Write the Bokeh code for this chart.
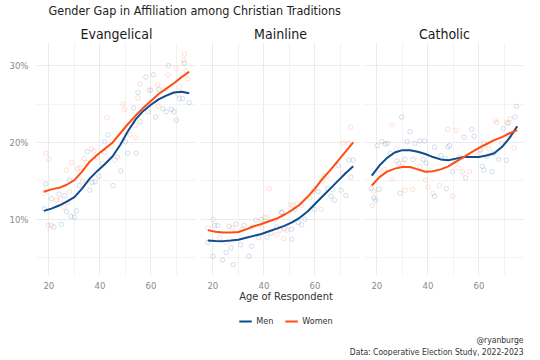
from bokeh.plotting import figure
from bokeh.layouts import column, row
from bokeh.models import Range1d, FixedTicker, PrintfTickFormatter, Title, Legend, LegendItem
from bokeh.embed import file_html
from bokeh.resources import INLINE

FONT = "'DejaVu Sans Condensed', Roboto, sans-serif"
MEN_COLOR = "#0E4C8E"
WOMEN_COLOR = "#FF4D14"

TITLE = "Gender Gap in Affiliation among Christian Traditions"
X_LABEL = "Age of Respondent"
PANELS = ["Evangelical", "Mainline", "Catholic"]
X_TICKS = [20, 40, 60]
X_MINOR = [30, 50, 70]
Y_TICKS = [10, 20, 30]
Y_MINOR = [5, 15, 25]

# smoothed trend lines (percent)
LINE_AGES = [18, 21, 24, 27, 30, 33, 36, 39, 42, 45, 48, 51, 54, 57, 60, 63, 66, 69, 72, 75]
ev_men_line = [11.1, 11.4, 11.8, 12.3, 12.9, 14.0, 15.3, 16.3, 17.2, 18.2, 19.7, 21.5, 23.0, 24.1, 24.9, 25.6, 26.1, 26.5, 26.6, 26.4]
ev_women_line = [13.6, 13.9, 14.1, 14.5, 15.1, 16.2, 17.5, 18.4, 19.2, 20.0, 21.2, 22.4, 23.5, 24.5, 25.4, 26.3, 27.0, 27.7, 28.5, 29.2]
ml_men_line = [7.25, 7.2, 7.17, 7.25, 7.35, 7.6, 7.85, 8.1, 8.45, 8.8, 9.15, 9.6, 10.2, 11.0, 12.0, 13.0, 14.0, 15.0, 16.0, 16.9]
ml_women_line = [8.6, 8.4, 8.3, 8.3, 8.35, 8.7, 9.1, 9.4, 9.75, 10.1, 10.6, 11.2, 11.9, 12.9, 14.0, 15.3, 16.4, 17.6, 18.8, 20.0]
ca_men_line = [15.7, 17.0, 18.0, 18.7, 19.0, 19.0, 18.8, 18.5, 18.1, 17.8, 17.7, 17.9, 18.1, 18.1, 18.1, 18.3, 18.6, 19.4, 20.6, 22.1]
ca_women_line = [14.4, 15.5, 16.2, 16.6, 16.8, 16.8, 16.5, 16.2, 16.25, 16.5, 16.9, 17.5, 18.1, 18.7, 19.3, 19.8, 20.3, 20.7, 21.2, 21.6]

# raw points (age, percent)
ev_women_age = [18.8, 20, 18.2, 23, 24.6, 25.9, 28.1, 26.8, 29, 31.3, 32.2, 33.8, 34.9, 36.7, 37.7, 39, 40.9, 41.8, 42.8, 44.5, 45.8, 33.2, 19.7, 21, 27.4,
                73.1, 72.8, 69.9, 66.7, 73.7, 71.2, 62.6, 55.8, 54.9, 49, 49.7, 53.8, 51.9, 54.1, 62.8, 65.4, 74.3, 70.5, 59.2]
ev_women_pct = [18.6, 17.8, 13.4, 12.5, 12.6, 11.6, 13.6, 16.4, 17.4, 16.6, 16.7, 17.9, 17.4, 19.2, 18.9, 18.1, 17.3, 18.7, 23.2, 19.6, 17.7, 15.0, 9.2, 9.2, 12.2,
                31.5, 30.7, 29.6, 28.8, 29.3, 27.2, 27.5, 27.6, 25.8, 25.0, 24.3, 22.2, 21.0, 20.6, 24.7, 27.0, 28.3, 26.3, 26.8]
ev_men_age = [18.8, 18.2, 21, 22, 24, 26.2, 26.9, 24.9, 28.7, 30, 30.8, 28.1, 31.9, 35.1, 36, 37, 38.1, 39.6, 41.8, 43.1, 45.1,
              73.1, 66.9, 60.9, 58, 59.9, 63.1, 54.9, 53.2, 59, 61.8, 64.7, 66, 68, 69, 69.9, 71.2, 72.4, 75, 55.8, 50, 50.9, 54.1, 48.1, 46.8]
ev_men_pct = [14.6, 11.4, 12.7, 9.0, 13.3, 13.1, 11.0, 9.35, 10.4, 10.3, 11.1, 15.1, 14.4, 18.8, 13.8, 14.8, 14.9, 15.6, 20.1, 21.0, 14.4,
              30.3, 30.0, 28.8, 28.5, 26.8, 26.9, 26.5, 24.5, 24.0, 23.3, 24.4, 24.0, 24.3, 24.0, 22.9, 25.7, 25.7, 25.2, 22.7, 20.1, 18.6, 18.6, 16.3, 18.1]

ml_women_age = [20, 18.1, 42.1, 22.6, 25.2, 27.7, 31.5, 35.4, 39.2, 40.3, 41.2, 44.4, 45, 46.3,
                74, 71, 73.1, 70.8, 63.7, 62.8, 59.9, 59, 58, 53.1, 50.3, 51.3, 54.8, 62.5, 47.7, 49, 64.6]
ml_women_pct = [10.0, 8.9, 14.0, 7.6, 7.0, 8.9, 8.7, 9.0, 8.9, 10.3, 10.2, 10.0, 8.0, 8.6,
                22.0, 19.9, 19.9, 16.0, 15.7, 15.0, 13.9, 13.6, 12.8, 12.1, 11.9, 11.8, 11.8, 11.3, 7.5, 8.6, 15.6]
ml_men_age = [18.1, 20, 20.7, 21.9, 23.8, 25.2, 27.1, 26.4, 28, 29, 30.9, 32.2, 34.1, 35.2, 36.9, 39, 38, 41.2, 42.8, 45, 46.9,
              74.9, 73.3, 74, 69.2, 70.2, 72.1, 66.9, 65, 66.3, 67.6, 61.2, 59.9, 52.2, 56, 54.8, 53.5, 50.9, 47.1, 48, 50.9]
ml_men_pct = [7.0, 5.2, 9.2, 9.2, 4.7, 5.7, 6.3, 9.1, 4.1, 9.4, 6.7, 9.2, 5.2, 6.5, 9.9, 10.0, 7.6, 7.7, 8.2, 9.0, 10.9,
              17.7, 17.7, 15.5, 17.0, 13.8, 13.1, 13.9, 14.0, 13.0, 12.5, 13.6, 11.3, 11.3, 10.0, 9.3, 9.6, 8.7, 10.9, 8.8, 7.4]

ca_men_age = [29.7, 33, 20.1, 22, 23.3, 24.2, 25.3, 27.8, 31, 31.9, 34.9, 36.8, 38.7, 34.2, 38.1, 39.3, 42.6, 45.1, 46.8, 17.8, 18.8, 19.5, 20.8, 29.1, 42.6,
              74.7, 74.1, 71.5, 69.6, 71.5, 58.1, 57.1, 54.2, 48.5, 47.8, 60.7, 63.2, 65.8, 67.7, 70.7, 52.3, 51, 49.7, 54.8, 61.3, 61.9, 65.1, 47.2]
ca_men_pct = [23.3, 21.4, 19.6, 20.1, 19.8, 19.9, 18.6, 17.6, 17.8, 20.1, 19.9, 20.2, 20.2, 17.8, 17.8, 17.3, 19.4, 18.3, 17.9, 14.0, 12.8, 12.5, 13.9, 13.4, 13.0,
              24.7, 23.3, 22.5, 21.8, 21.0, 20.8, 21.7, 20.7, 19.6, 19.4, 19.0, 18.2, 18.6, 17.8, 17.7, 18.1, 17.5, 16.2, 15.4, 16.9, 16.4, 16.2, 14.0]
ca_women_age = [25.9, 18.2, 18.8, 20.8, 23, 25.9, 28.5, 30.1, 31, 34, 36.8, 39.1, 40, 41.9, 44.5, 27.6,
                47.8, 51, 66.4, 67, 70.9, 72.2, 60, 61.9, 69, 73.7, 51.7, 53.6, 56.2, 49.7, 59.3, 63.8]
ca_women_pct = [22.3, 11.8, 13.7, 16.5, 16.5, 15.2, 17.3, 17.3, 13.8, 13.9, 16.9, 15.1, 14.2, 13.4, 14.4, 19.2,
                21.7, 21.6, 22.9, 22.6, 22.6, 23.1, 19.0, 19.9, 19.9, 19.3, 16.7, 16.2, 16.2, 13.0, 18.3, 19.2]

panel_data = [
    (ev_men_age, ev_men_pct, ev_women_age, ev_women_pct, ev_men_line, ev_women_line),
    (ml_men_age, ml_men_pct, ml_women_age, ml_women_pct, ml_men_line, ml_women_line),
    (ca_men_age, ca_men_pct, ca_women_age, ca_women_pct, ca_men_line, ca_women_line),
]

yr = Range1d(2.7, 33.0)
borders = [(36, 2), (2, 2), (2, 0)]
figs = []
for i, name in enumerate(PANELS):
    ma, mp, wa, wp, ml, wl = panel_data[i]
    p = figure(frame_width=160, frame_height=233, x_range=Range1d(15.15, 77.85), y_range=yr,
               toolbar_location=None, output_backend="svg",
               min_border_left=borders[i][0], min_border_right=borders[i][1],
               min_border_top=18, min_border_bottom=10)
    p.add_layout(Title(text=name, align="center", text_font=FONT, text_font_size="14px",
                       text_font_style="normal", text_color="#1a1a1a", standoff=1), "above")
    p.scatter(ma, mp, marker="circle", size=4.5, fill_color=None, line_color=MEN_COLOR, line_alpha=0.22, line_width=0.8)
    p.scatter(wa, wp, marker="circle", size=4.5, fill_color=None, line_color=WOMEN_COLOR, line_alpha=0.22, line_width=0.8)
    p.line(LINE_AGES, ml, line_color=MEN_COLOR, line_width=2.0)
    p.line(LINE_AGES, wl, line_color=WOMEN_COLOR, line_width=2.0)
    p.xaxis.ticker = FixedTicker(ticks=X_TICKS, minor_ticks=X_MINOR)
    p.yaxis.ticker = FixedTicker(ticks=Y_TICKS, minor_ticks=Y_MINOR)
    p.yaxis.formatter = PrintfTickFormatter(format="%d%%")
    p.axis.axis_line_color = None
    p.axis.major_tick_line_color = None
    p.axis.minor_tick_line_color = None
    p.axis.major_label_text_color = "#8a8a8a"
    p.axis.major_label_text_font = FONT
    p.axis.major_label_text_font_size = "9.5px"
    p.axis.major_label_standoff = 0
    p.yaxis.major_label_standoff = 2
    p.grid.grid_line_color = "#ebebeb"
    p.grid.minor_grid_line_color = "#f3f3f3"
    p.outline_line_color = None
    if i > 0:
        p.yaxis.visible = False
    figs.append(p)

head = figure(width=524, height=23, toolbar_location=None, output_backend="svg",
              min_border_left=36, min_border_right=0, min_border_top=0, min_border_bottom=0)
head.add_layout(Title(text=TITLE, align="left", text_font=FONT, text_font_size="12.5px",
                      text_font_style="normal", text_color="#222222", standoff=0), "above")
head.axis.visible = False
head.grid.visible = False
head.outline_line_color = None

# footer: x-axis title, legend, caption; legend keys use real line renderers outside the footer's visible range
foot = figure(width=524, height=65, toolbar_location=None, output_backend="svg",
              x_range=Range1d(0, 1), y_range=Range1d(0, 1),
              min_border_left=48, min_border_right=1, min_border_top=0, min_border_bottom=0)
foot.add_layout(Title(text=X_LABEL, align="center", text_font=FONT, text_font_size="11px",
                      text_font_style="normal", text_color="#333333", standoff=-7), "above")
r_m = foot.line(LINE_AGES, ev_men_line, line_color=MEN_COLOR, line_width=2.0)
r_w = foot.line(LINE_AGES, ev_women_line, line_color=WOMEN_COLOR, line_width=2.0)
leg = Legend(items=[LegendItem(label="Men", renderers=[r_m]), LegendItem(label="Women", renderers=[r_w])],
             orientation="horizontal", location="bottom_center", margin=6, padding=0, spacing=8,
             glyph_width=13, glyph_height=10, label_standoff=5, label_height=10,
             label_text_font=FONT, label_text_font_size="9px", label_text_color="#333333",
             background_fill_alpha=0, border_line_color=None)
foot.add_layout(leg)
foot.add_layout(Title(text="@ryanburge", align="right", text_font=FONT, text_font_size="8.5px",
                      text_font_style="normal", text_color="#333333", standoff=0), "below")
foot.add_layout(Title(text="Data: Cooperative Election Study, 2022-2023", align="right", text_font=FONT,
                      text_font_size="8.5px", text_font_style="normal", text_color="#333333", standoff=0), "below")
foot.axis.visible = False
foot.grid.visible = False
foot.outline_line_color = None

layout = column(head, row(*figs), foot)
open("out.html", "w").write(file_html(layout, INLINE))
